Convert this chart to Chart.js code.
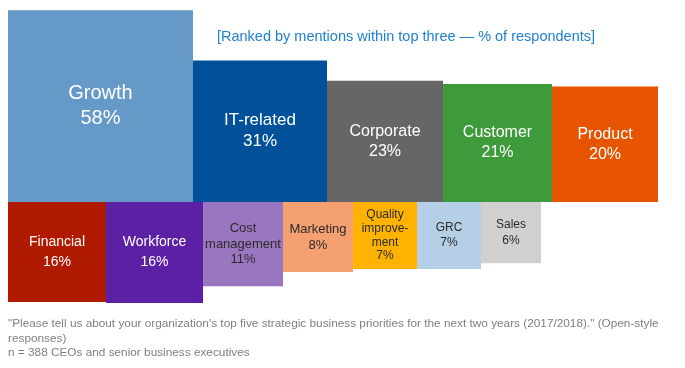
<!DOCTYPE html>
<html>
<head>
<meta charset="utf-8">
<script src="https://cdn.jsdelivr.net/npm/chart.js@4.4.1/dist/chart.umd.min.js"></script>
<style>
  html, body { margin: 0; padding: 0; background: #fff; }
  #wrap { width: 685px; height: 368px; }
</style>
</head>
<body>
<div id="wrap"><canvas id="chart" width="685" height="368"></canvas></div>
<script>
    'use strict';

    // top row (above the baseline) and bottom row (hanging below it)
    var topCategories = ['Growth', 'IT-related', 'Corporate', 'Customer', 'Product'];
    var topValues = [58, 31, 23, 21, 20];
    var topWidths = [185, 134, 116, 109, 106];

    var bottomCategories = ['Financial', 'Workforce', 'Cost management', 'Marketing',
        'Quality improvement', 'GRC', 'Sales'];
    var bottomValues = [16, 16, 11, 8, 7, 7, 6];
    var bottomWidths = [98, 97, 80, 70, 64, 64, 60];

    // area of each box is proportional to its share of respondents
    var areaPerPoint = 612;

    var topColors = ['#6599c7', '#00519a', '#666666', '#3d9b3b', '#e65400'];
    var bottomColors = ['#b01a00', '#5b20a3', '#9a76c0', '#f4a070', '#ffb300', '#b4cfe6', '#d0d0d0'];

    // how each label is broken into lines and styled
    var topLines = [['Growth'], ['IT-related'], ['Corporate'], ['Customer'], ['Product']];
    var bottomLines = [['Financial'], ['Workforce'], ['Cost', 'management'], ['Marketing'],
        ['Quality', 'improve-', 'ment'], ['GRC'], ['Sales']];
    var topFont = [20, 17, 16, 16, 16];
    var topLead = [25, 21, 20, 20, 20];
    var topInk = ['#fff', '#fff', '#fff', '#fff', '#fff'];
    var bottomFont = [14, 14, 13, 13, 12, 12, 12];
    var bottomLead = [20, 20, 15.5, 16, 13.7, 15, 16];
    var bottomInk = ['#fff', '#fff', '#2b2b2b', '#2b2b2b', '#2b2b2b', '#2b2b2b', '#2b2b2b'];

    var titleText = '[Ranked by mentions within top three \u2014 % of respondents]';
    var noteLines = [
        '"Please tell us about your organization\'s top five strategic business priorities for the next two years (2017/2018)." (Open-style',
        'responses)',
        'n = 388 CEOs and senior business executives'
    ];

    var FONT = '"Liberation Sans", Arial, sans-serif';

    function buildBoxes(cats, values, widths, colors, lines, fonts, leads, inks, below) {
        var boxes = [];
        var x = 0;
        for (var i = 0; i < cats.length; i++) {
            var h = areaPerPoint * values[i] / widths[i];
            boxes.push({
                name: cats[i], value: values[i], x0: x, x1: x + widths[i],
                h: below ? -h : h, color: colors[i], lines: lines[i],
                font: fonts[i], lead: leads[i], ink: inks[i]
            });
            x += widths[i];
        }
        return boxes;
    }

    var boxes = buildBoxes(topCategories, topValues, topWidths, topColors, topLines,
        topFont, topLead, topInk, false).concat(
        buildBoxes(bottomCategories, bottomValues, bottomWidths, bottomColors, bottomLines,
            bottomFont, bottomLead, bottomInk, true));

    var datasets = boxes.map(function (b) {
        return {
            label: b.name,
            data: [{ x: b.x0, y: b.h }, { x: b.x1, y: b.h }],
            fill: { value: 0 },
            backgroundColor: b.color,
            borderColor: 'rgba(0,0,0,0)',
            borderWidth: 0,
            pointRadius: 0,
            tension: 0
        };
    });

    var boxLabels = {
        id: 'boxLabels',
        afterDatasetsDraw: function (chart) {
            var ctx = chart.ctx;
            var xs = chart.scales.x, ys = chart.scales.y;
            ctx.save();
            ctx.textAlign = 'center';
            ctx.textBaseline = 'middle';
            boxes.forEach(function (b) {
                var cx = xs.getPixelForValue((b.x0 + b.x1) / 2);
                var cy = ys.getPixelForValue(b.h / 2);
                var rows = b.lines.concat([b.value + '%']);
                var start = cy - (rows.length - 1) * b.lead / 2;
                ctx.fillStyle = b.ink;
                ctx.font = b.font + 'px ' + FONT;
                rows.forEach(function (t, k) {
                    ctx.fillText(t, cx, start + k * b.lead);
                });
            });
            ctx.restore();
        },
        afterDraw: function (chart) {
            var ctx = chart.ctx;
            ctx.save();
            ctx.textBaseline = 'alphabetic';
            ctx.textAlign = 'center';
            ctx.fillStyle = '#2080d0';
            ctx.font = '14.5px ' + FONT;
            ctx.fillText(titleText, 406, 41);

            ctx.textAlign = 'left';
            ctx.fillStyle = '#808080';
            ctx.font = '11.8px ' + FONT;
            noteLines.forEach(function (t, k) {
                ctx.fillText(t, 8, 327 + k * 14.5);
            });
            ctx.restore();
        }
    };

    var chart = new Chart(document.getElementById('chart'), {
        type: 'line',
        data: { datasets: datasets },
        options: {
            responsive: false,
            animation: false,
            events: [],
            layout: { padding: { left: 8, right: 27, top: 9, bottom: 64 } },
            scales: {
                x: { type: 'linear', display: false, min: 0, max: 650 },
                y: { type: 'linear', display: false, min: -102, max: 193 }
            },
            plugins: {
                legend: { display: false },
                tooltip: { enabled: false },
                filler: { propagate: false }
            }
        },
        plugins: [boxLabels]
    });
</script>
</body>
</html>
